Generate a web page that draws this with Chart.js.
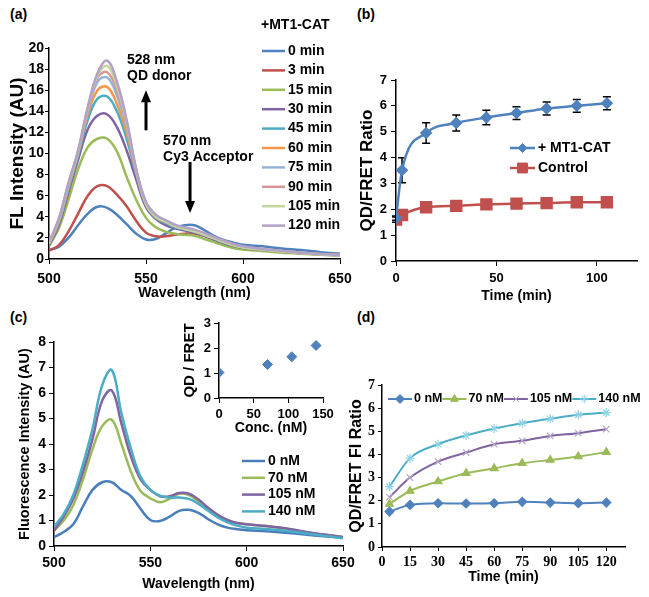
<!DOCTYPE html>
<html>
<head>
<meta charset="utf-8">
<script src="https://cdn.jsdelivr.net/npm/chart.js@4/dist/chart.umd.min.js"></script>
<style>
  body { margin: 0; background: #fff; width: 649px; height: 597px; overflow: hidden; position: relative; font-family: "Liberation Sans", Arial, sans-serif; }
  canvas { position: absolute; }
  .tag { position: absolute; font-weight: bold; font-size: 14px; color: #000; }
</style>
</head>
<body>
<div class="tag" style="left:10px;top:6px">(a)</div>
<div class="tag" style="left:357px;top:6px">(b)</div>
<div class="tag" style="left:10px;top:309px">(c)</div>
<div class="tag" style="left:357px;top:309px">(d)</div>

<canvas id="chartA" width="360" height="300" style="left:0;top:0;width:360px;height:300px"></canvas>
<canvas id="chartB" width="309" height="305" style="left:340px;top:0;width:309px;height:305px"></canvas>
<canvas id="chartC" width="360" height="297" style="left:0;top:300px;width:360px;height:297px"></canvas>
<canvas id="chartInset" width="170" height="140" style="left:170px;top:305px;width:170px;height:140px"></canvas>
<canvas id="chartD" width="309" height="297" style="left:340px;top:300px;width:309px;height:297px"></canvas>

<script>
// ---- data ----

// (a) emission spectra after adding MT1-CAT
const WAVELENGTHS = [500, 505, 510, 515, 520, 525, 530, 535, 540, 545, 550, 555, 560, 565, 570, 575, 580, 585, 590, 595, 600, 610, 620, 630, 640, 650];
const A_LABELS = ['0 min', '3 min', '15 min', '30 min', '45 min', '60 min', '75 min', '90 min', '105 min', '120 min'];
const A_0MIN   = [0.85, 1.15, 2.0, 3.2, 4.3, 4.95, 4.85, 4.2, 3.3, 2.4, 1.85, 1.9, 2.4, 2.95, 3.2, 3.2, 2.75, 2.2, 1.8, 1.55, 1.35, 1.2, 1.0, 0.85, 0.65, 0.5];
const A_3MIN   = [0.8, 1.3, 2.6, 4.3, 6.0, 6.9, 6.9, 6.1, 5.0, 3.6, 2.5, 2.15, 2.15, 2.3, 2.4, 2.4, 2.2, 1.85, 1.5, 1.25, 1.05, 0.85, 0.7, 0.55, 0.45, 0.35];
const A_15MIN  = [1.2, 2.9, 5.6, 8.5, 10.6, 11.4, 11.4, 10.2, 7.8, 5.6, 3.9, 3.0, 2.6, 2.4, 2.3, 2.2, 1.9, 1.6, 1.3, 1.05, 0.9, 0.75, 0.6, 0.5, 0.4, 0.3];
const A_30MIN  = [1.3, 3.2, 6.3, 9.4, 12.3, 13.6, 13.7, 12.5, 10.3, 7.5, 4.9, 3.8, 3.2, 2.9, 2.7, 2.5, 2.2, 1.85, 1.5, 1.25, 1.05, 0.85, 0.7, 0.55, 0.45, 0.35];
const A_45MIN  = [1.4, 3.4, 6.6, 9.8, 13.2, 15.2, 15.4, 14.0, 11.4, 8.0, 5.1, 3.9, 3.4, 3.0, 2.8, 2.6, 2.3, 1.95, 1.6, 1.3, 1.1, 0.9, 0.72, 0.57, 0.45, 0.35];
const A_60MIN  = [1.45, 3.5, 6.8, 10.0, 13.7, 16.0, 16.3, 14.7, 12.0, 8.2, 5.2, 4.0, 3.5, 3.1, 2.85, 2.65, 2.35, 2.0, 1.65, 1.35, 1.12, 0.9, 0.72, 0.57, 0.45, 0.35];
const A_75MIN  = [1.5, 3.6, 7.0, 10.1, 14.0, 16.8, 17.2, 15.5, 12.5, 8.3, 5.3, 4.1, 3.55, 3.15, 2.9, 2.7, 2.4, 2.05, 1.7, 1.38, 1.15, 0.92, 0.74, 0.58, 0.46, 0.36];
const A_90MIN  = [1.5, 3.7, 7.1, 10.2, 14.2, 17.2, 17.7, 16.0, 12.8, 8.4, 5.3, 4.1, 3.6, 3.2, 2.95, 2.72, 2.42, 2.07, 1.72, 1.4, 1.17, 0.93, 0.75, 0.59, 0.47, 0.37];
const A_105MIN = [1.5, 3.75, 7.1, 10.2, 14.3, 17.4, 18.3, 16.4, 13.0, 8.4, 5.2, 4.0, 3.55, 3.1, 2.85, 2.6, 2.3, 1.95, 1.6, 1.3, 1.1, 0.88, 0.7, 0.55, 0.43, 0.33];
const A_120MIN = [1.6, 3.8, 7.2, 10.3, 14.4, 17.6, 18.8, 16.8, 13.2, 8.5, 5.4, 4.2, 3.7, 3.25, 3.0, 2.78, 2.47, 2.1, 1.75, 1.42, 1.2, 0.95, 0.77, 0.6, 0.48, 0.38];
const A_SERIES = [A_0MIN, A_3MIN, A_15MIN, A_30MIN, A_45MIN, A_60MIN, A_75MIN, A_90MIN, A_105MIN, A_120MIN];
const A_COLORS = ['#4F81BD', '#C0504D', '#9BBB59', '#8064A2', '#4BACC6', '#F79646', '#95B3D7', '#D99694', '#C3D69B', '#B3A2C7'];

// (b) ratio vs time
const B_TIME = [0, 3, 15, 30, 45, 60, 75, 90, 105];
const B_MT1 = [1.66, 3.51, 4.95, 5.34, 5.55, 5.72, 5.9, 6.0, 6.1];
const B_MT1_ERR = [0.08, 0.48, 0.4, 0.31, 0.28, 0.25, 0.25, 0.25, 0.25];
const B_CTRL = [1.6, 1.78, 2.08, 2.13, 2.19, 2.22, 2.24, 2.27, 2.27];
const B_CTRL_ERR = [0.1, 0.1, 0.06, 0.06, 0.06, 0.06, 0.06, 0.08, 0.08];

// (c) spectra at different concentrations
const C_LABELS = ['0 nM', '70 nM', '105 nM', '140 nM'];
const C_0NM   = [0.35, 0.55, 0.85, 1.55, 2.2, 2.5, 2.5, 2.2, 1.95, 1.45, 1.02, 0.98, 1.15, 1.38, 1.42, 1.3, 1.05, 0.85, 0.72, 0.66, 0.62, 0.58, 0.52, 0.45, 0.38, 0.32];
const C_70NM  = [0.6, 1.0, 1.6, 2.6, 3.8, 4.7, 4.95, 4.0, 2.9, 2.15, 1.87, 1.72, 1.85, 2.05, 2.0, 1.75, 1.45, 1.2, 1.0, 0.9, 0.85, 0.78, 0.68, 0.55, 0.45, 0.35];
const C_105NM = [0.6, 1.15, 1.85, 2.9, 4.2, 5.7, 6.1, 4.8, 3.5, 2.6, 2.2, 1.95, 1.95, 2.08, 2.05, 1.82, 1.5, 1.22, 1.02, 0.9, 0.85, 0.78, 0.7, 0.56, 0.45, 0.35];
const C_140NM = [0.75, 1.25, 2.0, 3.2, 4.6, 6.3, 6.9, 5.2, 3.8, 2.7, 2.2, 1.97, 1.9, 1.9, 1.85, 1.65, 1.38, 1.12, 0.93, 0.8, 0.72, 0.67, 0.6, 0.5, 0.4, 0.3];
const C_SERIES = [C_0NM, C_70NM, C_105NM, C_140NM];
const C_COLORS = ['#4A7EBB', '#9BBB59', '#8064A2', '#4BACC6'];

// inset of (c)
const INSET_CONC = [0, 70, 105, 140];
const INSET_RATIO = [1.02, 1.34, 1.65, 2.1];

// (d) ratio vs time at different concentrations
const D_TIME = [4, 15, 30, 45, 60, 75, 90, 105, 120];
const D_TICKS = [0, 15, 30, 45, 60, 75, 90, 105, 120];
const D_0NM   = [1.53, 1.82, 1.89, 1.88, 1.89, 1.95, 1.92, 1.89, 1.92];
const D_70NM  = [1.86, 2.42, 2.83, 3.19, 3.4, 3.62, 3.76, 3.91, 4.1];
const D_105NM = [2.15, 3.0, 3.69, 4.08, 4.44, 4.59, 4.8, 4.92, 5.09];
const D_140NM = [2.61, 3.84, 4.44, 4.82, 5.12, 5.35, 5.54, 5.71, 5.81];
const D_SERIES = [D_0NM, D_70NM, D_105NM, D_140NM];
const D_STYLES = ['rectRot', 'triangle', 'crossRot', 'star'];

// ---- shared setup ----
Chart.defaults.font.family = '"Liberation Sans", Arial, sans-serif';
Chart.defaults.font.weight = 'bold';
Chart.defaults.color = '#000';
Chart.defaults.animation = false;
Chart.defaults.devicePixelRatio = 1;
Chart.defaults.plugins.legend.display = false;
Chart.defaults.plugins.tooltip.enabled = false;

function toPoints(xs, ys) {
  return xs.map((x, i) => ({ x: x, y: ys[i] }));
}

// linear axis with fixed box size so plot areas line up with the figure
function axis(cfg) {
  const horizontal = cfg.horizontal;
  return {
    type: 'linear',
    min: cfg.min,
    max: cfg.max,
    ticks: {
      stepSize: cfg.step,
      autoSkip: false,
      includeBounds: false,
      maxRotation: 0,
      padding: cfg.tickPad,
      color: '#000',
      font: cfg.tickFont || { size: 13 }
    },
    grid: { drawOnChartArea: false, tickLength: cfg.tickLen || 5, color: '#000', lineWidth: 1 },
    border: { color: '#000', width: 1.5 },
    title: {
      display: !!cfg.title,
      text: cfg.title,
      color: '#000',
      font: { size: cfg.titleSize || 14, lineHeight: 1 },
      padding: cfg.titlePad || 0
    },
    afterBuildTicks: (s) => {
      if (cfg.tickValues) s.ticks = cfg.tickValues.map(v => ({ value: v }));
    },
    afterFit: (s) => {
      if (horizontal) { s.height = cfg.size; s.paddingLeft = 0; s.paddingRight = 0; }
      else { s.width = cfg.size; s.paddingTop = 0; s.paddingBottom = 0; }
    }
  };
}

function drawMarker(ctx, style, radius, x, y) {
  if (Chart.helpers && Chart.helpers.drawPoint) {
    Chart.helpers.drawPoint(ctx, { pointStyle: style, radius: radius, rotation: 0, borderWidth: 1 }, x, y);
  }
}

// legend drawn where the figure has it (inside the plots)
const freeLegend = {
  id: 'freeLegend',
  afterDraw(chart, args, o) {
    if (o.x === undefined) return;
    const ctx = chart.ctx;
    ctx.save();
    ctx.font = 'bold ' + o.size + 'px "Liberation Sans", Arial, sans-serif';
    ctx.textBaseline = 'middle';
    ctx.fillStyle = '#000';
    if (o.title) ctx.fillText(o.title, o.titleX, o.titleY);
    let x = o.x, y = o.y;
    chart.data.datasets.forEach(ds => {
      ctx.strokeStyle = ds.borderColor;
      ctx.lineWidth = ds.borderWidth;
      ctx.beginPath();
      ctx.moveTo(x, y);
      ctx.lineTo(x + o.lineLen, y);
      ctx.stroke();
      if (o.markers && ds.pointRadius > 0) {
        ctx.fillStyle = ds.pointBackgroundColor;
        ctx.strokeStyle = ds.pointBorderColor;
        ctx.lineWidth = 1;
        drawMarker(ctx, ds.pointStyle, ds.pointRadius, x + o.lineLen / 2, y);
      }
      ctx.fillStyle = '#000';
      ctx.fillText(ds.label, x + o.lineLen + o.gap, y);
      if (o.horizontal) x += o.lineLen + o.gap + ctx.measureText(ds.label).width + o.itemGap;
      else y += o.dy;
    });
    ctx.restore();
  }
};

// text labels and arrows of panel (a), placed in data units
const annotate = {
  id: 'annotate',
  afterDraw(chart, args, o) {
    if (!o.texts) return;
    const { ctx, scales: { x, y } } = chart;
    ctx.save();
    ctx.font = 'bold ' + o.size + 'px "Liberation Sans", Arial, sans-serif';
    ctx.fillStyle = '#000';
    ctx.strokeStyle = '#000';
    ctx.textBaseline = 'middle';
    o.texts.forEach(t => ctx.fillText(t.text, x.getPixelForValue(t.x), y.getPixelForValue(t.y)));
    o.arrows.forEach(a => {
      const px = x.getPixelForValue(a.x);
      const y0 = y.getPixelForValue(a.from);
      const y1 = y.getPixelForValue(a.to);
      const dir = Math.sign(y1 - y0);
      ctx.lineWidth = 3;
      ctx.beginPath();
      ctx.moveTo(px, y0);
      ctx.lineTo(px, y1 - dir * 8);
      ctx.stroke();
      ctx.beginPath();
      ctx.moveTo(px, y1);
      ctx.lineTo(px - 5, y1 - dir * 12);
      ctx.lineTo(px + 5, y1 - dir * 12);
      ctx.closePath();
      ctx.fill();
    });
    ctx.restore();
  }
};

// vertical error bars for panel (b)
const errorBars = {
  id: 'errorBars',
  beforeDatasetsDraw(chart) {
    const ctx = chart.ctx;
    const yScale = chart.scales.y;
    ctx.save();
    ctx.strokeStyle = '#000';
    ctx.lineWidth = 1.5;
    chart.data.datasets.forEach((ds, di) => {
      if (!ds.errors) return;
      const meta = chart.getDatasetMeta(di);
      meta.data.forEach((pt, i) => {
        const v = ds.data[i].y, e = ds.errors[i];
        const top = yScale.getPixelForValue(v + e);
        const bot = yScale.getPixelForValue(v - e);
        ctx.beginPath();
        ctx.moveTo(pt.x, top); ctx.lineTo(pt.x, bot);
        ctx.moveTo(pt.x - 4, top); ctx.lineTo(pt.x + 4, top);
        ctx.moveTo(pt.x - 4, bot); ctx.lineTo(pt.x + 4, bot);
        ctx.stroke();
      });
    });
    ctx.restore();
  }
};

// ---- (a) ----
new Chart(document.getElementById('chartA'), {
  type: 'line',
  data: {
    datasets: A_SERIES.map((vals, i) => ({
      label: A_LABELS[i],
      data: toPoints(WAVELENGTHS, vals),
      borderColor: A_COLORS[i],
      borderWidth: 2.5,
      pointRadius: 0,
      tension: 0.4,
      order: A_SERIES.length - i
    }))
  },
  options: {
    responsive: false,
    layout: { padding: { top: 48, right: 20, left: 0, bottom: 0 } },
    scales: {
      x: axis({ horizontal: true, min: 500, max: 650, step: 50, size: 41, tickPad: 7, tickFont: { size: 14 }, title: 'Wavelength (nm)', titleSize: 14 }),
      y: axis({ min: 0, max: 20, step: 2, size: 49, tickPad: 1, tickLen: 4, tickFont: { size: 14 }, title: 'FL Intensity (AU)', titleSize: 19, titlePad: { top: 8 } })
    },
    plugins: {
      freeLegend: { x: 262, y: 51, dy: 19.4, lineLen: 23, gap: 3, size: 14, title: '+MT1-CAT', titleX: 261, titleY: 25 },
      annotate: {
        size: 14,
        texts: [
          { text: '528 nm', x: 540.2, y: 18.86 },
          { text: 'QD donor', x: 540.2, y: 17.35 },
          { text: '570 nm', x: 558.8, y: 11.2 },
          { text: 'Cy3 Acceptor', x: 558.8, y: 9.67 }
        ],
        arrows: [
          { x: 550, from: 12.2, to: 16.0 },
          { x: 572.7, from: 9.2, to: 4.36 }
        ]
      }
    }
  },
  plugins: [freeLegend, annotate]
});

// ---- (b) ----
new Chart(document.getElementById('chartB'), {
  type: 'line',
  data: {
    datasets: [
      {
        label: '+ MT1-CAT',
        data: toPoints(B_TIME, B_MT1),
        errors: B_MT1_ERR,
        borderColor: '#4F81BD',
        borderWidth: 2.5,
        pointStyle: 'rectRot',
        pointRadius: 4.5,
        pointBackgroundColor: '#4F81BD',
        pointBorderColor: '#4F81BD',
        cubicInterpolationMode: 'monotone'
      },
      {
        label: 'Control',
        data: toPoints(B_TIME, B_CTRL),
        errors: B_CTRL_ERR,
        borderColor: '#C0504D',
        borderWidth: 2.5,
        pointStyle: 'rect',
        pointRadius: 7,
        pointBackgroundColor: '#C0504D',
        pointBorderColor: '#C0504D',
        cubicInterpolationMode: 'monotone'
      }
    ]
  },
  options: {
    responsive: false,
    layout: { padding: { top: 80, right: 12, left: 0, bottom: 0 } },
    scales: {
      x: axis({ horizontal: true, min: 0, max: 120, step: 50, size: 44, tickPad: 5, title: 'Time (min)', titleSize: 14, titlePad: { bottom: 2 } }),
      y: axis({ min: 0, max: 7, step: 1, size: 56, tickPad: 4, title: 'QD/FRET Ratio', titleSize: 17, titlePad: { top: 19 } })
    },
    plugins: {
      freeLegend: { x: 170, y: 148, dy: 20, lineLen: 25, gap: 3, size: 14, markers: true }
    }
  },
  plugins: [freeLegend, errorBars]
});

// ---- (c) ----
new Chart(document.getElementById('chartC'), {
  type: 'line',
  data: {
    datasets: C_SERIES.map((vals, i) => ({
      label: C_LABELS[i],
      data: toPoints(WAVELENGTHS, vals),
      borderColor: C_COLORS[i],
      borderWidth: 2.5,
      pointRadius: 0,
      tension: 0.4,
      order: C_SERIES.length - i
    }))
  },
  options: {
    responsive: false,
    layout: { padding: { top: 42, right: 17, left: 0, bottom: 0 } },
    scales: {
      x: axis({ horizontal: true, min: 500, max: 650, step: 50, size: 51, tickPad: 4, tickFont: { size: 14 }, title: 'Wavelength (nm)', titleSize: 14, titlePad: { bottom: 6 } }),
      y: axis({ min: 0, max: 8, step: 1, size: 54, tickPad: 3, tickFont: { size: 14 }, title: 'Fluorescence Intensity (AU)', titleSize: 14.5, titlePad: { top: 18 } })
    },
    plugins: {
      freeLegend: { x: 242, y: 161, dy: 16.8, lineLen: 23, gap: 3, size: 14 }
    }
  },
  plugins: [freeLegend]
});

// ---- inset of (c) ----
new Chart(document.getElementById('chartInset'), {
  type: 'scatter',
  data: {
    datasets: [{
      label: 'QD / FRET',
      data: toPoints(INSET_CONC, INSET_RATIO),
      pointStyle: 'rectRot',
      pointRadius: 5,
      pointBackgroundColor: '#4F81BD',
      pointBorderColor: '#4F81BD'
    }]
  },
  options: {
    responsive: false,
    layout: { padding: { top: 18, right: 17, left: 0, bottom: 0 } },
    scales: {
      x: axis({ horizontal: true, min: 0, max: 150, step: 50, size: 47, tickPad: 4, title: 'Conc. (nM)', titleSize: 14, titlePad: { bottom: 10 } }),
      y: axis({ min: 0, max: 3, step: 1, size: 49, tickPad: 3, title: 'QD / FRET', titleSize: 15, titlePad: { top: 12 } })
    }
  }
});

// ---- (d) ----
const D_COLORS = ['#4F81BD', '#9BBB59', '#8064A2', '#4BACC6'];
const D_MARKER_COLORS = ['#4F81BD', '#9BBB59', '#B4A7C9', '#8FD3E6'];
const SERIF = '"Liberation Serif", "Times New Roman", serif';
new Chart(document.getElementById('chartD'), {
  type: 'line',
  data: {
    datasets: D_SERIES.map((vals, i) => ({
      label: C_LABELS[i],
      data: toPoints(D_TIME, vals),
      borderColor: D_COLORS[i],
      borderWidth: 2,
      pointStyle: D_STYLES[i],
      pointRadius: 4.5,
      pointBackgroundColor: D_MARKER_COLORS[i],
      pointBorderColor: D_MARKER_COLORS[i],
      pointBorderWidth: 1.2,
      cubicInterpolationMode: 'monotone'
    }))
  },
  options: {
    responsive: false,
    layout: { padding: { top: 85, right: 24, left: 0, bottom: 0 } },
    scales: {
      x: axis({ horizontal: true, min: 0, max: 130, step: 15, tickValues: D_TICKS, size: 50, tickPad: 3, tickLen: 4,
        tickFont: { family: SERIF, size: 14 },
        title: 'Time (min)', titleSize: 14, titlePad: { bottom: 13 } }),
      y: axis({ min: 0, max: 7, step: 1, size: 42, tickPad: 3, tickLen: 4,
        tickFont: { family: SERIF, size: 14 },
        title: 'QD/FRET FI Ratio', titleSize: 16, titlePad: { top: 9 } })
    },
    plugins: {
      freeLegend: { x: 48, y: 99, lineLen: 24, gap: 2, itemGap: 0, size: 12.5, markers: true, horizontal: true }
    }
  },
  plugins: [freeLegend]
});
</script>
</body>
</html>
